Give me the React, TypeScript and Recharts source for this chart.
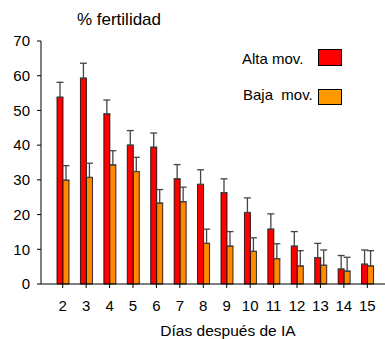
import { Bar, BarChart, ErrorBar, XAxis, YAxis } from "recharts";

const days = ["2", "3", "4", "5", "6", "7", "8", "9", "10", "11", "12", "13", "14", "15"];
const alta = [53.8, 59.3, 49.0, 40.0, 39.4, 30.3, 28.7, 26.3, 20.6, 15.8, 10.9, 7.6, 4.3, 5.7];
const altaErr = [4.3, 4.3, 4.0, 4.2, 4.1, 4.1, 4.2, 4.0, 4.2, 4.4, 4.2, 4.1, 3.9, 4.1];
const baja = [29.9, 30.7, 34.3, 32.4, 23.3, 23.7, 11.7, 10.9, 9.4, 7.3, 5.2, 5.4, 3.7, 5.2];
const bajaErr = [4.2, 4.1, 4.1, 4.1, 3.9, 4.2, 4.1, 4.2, 3.9, 4.3, 4.4, 4.4, 4.0, 4.4];
const yTicks = [0, 10, 20, 30, 40, 50, 60, 70];

const font = "'Liberation Sans', Arial, sans-serif";

const data = days.map((d, i) => ({
	day: d,
	alta: alta[i],
	altaErr: [0, altaErr[i]],
	baja: baja[i],
	bajaErr: [0, bajaErr[i]],
}));

const tickStyle = { fontSize: 15, fill: "#000", fontFamily: font };

export default function App() {
	return (
		<div
			style={{
				position: "absolute",
				left: 0,
				top: 0,
				width: 385,
				height: 339,
				background: "#fff",
				fontFamily: font,
				color: "#000",
			}}
		>
			<BarChart
				width={385}
				height={339}
				data={data}
				margin={{ top: 41, right: 0, left: 0, bottom: 0 }}
				barSize={6}
				barGap={0}
			>
				<XAxis
					dataKey="day"
					height={55}
					padding={{ left: 10, right: 6 }}
					tickSize={4}
					tickMargin={12}
					tick={tickStyle}
					axisLine={{ stroke: "#000", strokeWidth: 1.2 }}
					tickLine={{ stroke: "#000" }}
					interval={0}
				/>
				<YAxis
					width={41}
					domain={[0, 70]}
					ticks={yTicks}
					tickSize={4}
					tickMargin={7}
					tick={tickStyle}
					axisLine={{ stroke: "#000", strokeWidth: 1 }}
					tickLine={{ stroke: "#000" }}
				/>
				<Bar dataKey="alta" fill="#ff0000" stroke="#000" strokeWidth={0.8} isAnimationActive={false}>
					<ErrorBar dataKey="altaErr" width={3.5} stroke="#444" strokeWidth={1.3} direction="y" isAnimationActive={false} />
				</Bar>
				<Bar dataKey="baja" fill="#ff8a00" stroke="#000" strokeWidth={0.8} isAnimationActive={false}>
					<ErrorBar dataKey="bajaErr" width={3.5} stroke="#444" strokeWidth={1.3} direction="y" isAnimationActive={false} />
				</Bar>
			</BarChart>

			<div style={{ position: "absolute", left: 60, top: 11, width: 118, textAlign: "center", fontSize: 17, lineHeight: "17px" }}>
				% fertilidad
			</div>
			<div style={{ position: "absolute", left: 128, top: 323, width: 200, textAlign: "center", fontSize: 15.5, lineHeight: "15.5px" }}>
				Días después de IA
			</div>

			<div style={{ position: "absolute", left: 242, top: 51, fontSize: 15, lineHeight: "15px", whiteSpace: "pre" }}>
				Alta mov.
			</div>
			<div style={{ position: "absolute", left: 318, top: 49, width: 22, height: 15, background: "#ff0000", border: "1px solid #000" }} />
			<div style={{ position: "absolute", left: 243, top: 87, fontSize: 15, lineHeight: "15px", whiteSpace: "pre" }}>
				Baja  mov.
			</div>
			<div style={{ position: "absolute", left: 318, top: 89, width: 22, height: 14, background: "#ff9900", border: "1px solid #000" }} />
		</div>
	);
}
